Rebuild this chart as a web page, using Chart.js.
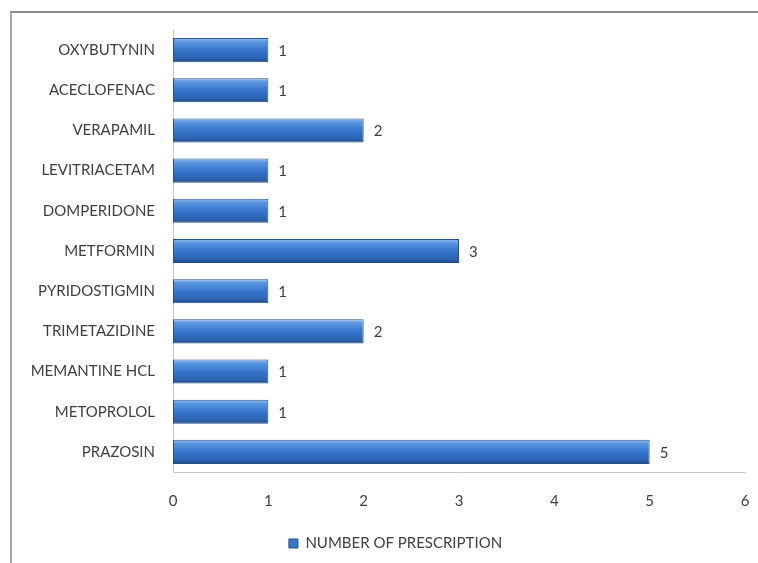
<!DOCTYPE html>
<html>
<head>
<meta charset="utf-8">
<script src="https://cdn.jsdelivr.net/npm/chart.js@4"></script>
<style>
  html, body { margin: 0; padding: 0; background: #fff; }
  #wrap { position: relative; width: 758px; height: 563px; overflow: hidden; }
  #frame { position: absolute; left: 10px; top: 11px; right: -5px; bottom: -5px;
           border-top: 2px solid #8c8c8c; border-left: 2px solid #a8a8a8; }
  #chart { position: absolute; left: 0; top: 0; }
</style>
</head>
<body>
<div id="wrap">
  <div id="frame"></div>
  <canvas id="chart" width="758" height="563"></canvas>
</div>
<script>
var drugs = ['OXYBUTYNIN', 'ACECLOFENAC', 'VERAPAMIL', 'LEVITRIACETAM', 'DOMPERIDONE',
  'METFORMIN', 'PYRIDOSTIGMIN', 'TRIMETAZIDINE', 'MEMANTINE HCL', 'METOPROLOL', 'PRAZOSIN'];
var prescriptions = [1, 1, 2, 1, 1, 3, 1, 2, 1, 1, 5];
var xTicks = [0, 1, 2, 3, 4, 5, 6];

var labelFont = { family: 'Lato, "Open Sans", sans-serif', size: 15 };
var barPct = 0.6;

// cylinder-like shading for each bar, built from the y scale
function barFill(c) {
  var chart = c.chart;
  var ys = chart.scales.y;
  if (!ys || c.dataIndex === undefined) return '#3c78c8';
  var mid = ys.getPixelForValue(c.dataIndex);
  var half = (ys.height / drugs.length) * barPct / 2;
  var g = chart.ctx.createLinearGradient(0, mid - half, 0, mid + half);
  g.addColorStop(0, '#9cc3ef');
  g.addColorStop(0.15, '#5b97e0');
  g.addColorStop(0.5, '#3676cc');
  g.addColorStop(0.85, '#2b62b0');
  g.addColorStop(1, '#1d4680');
  return g;
}

var valueLabels = {
  id: 'valueLabels',
  afterLayout: function(chart) {
    // legend sits a little right of centre in the original
    chart.legend.left += 18;
    chart.legend.right += 18;
  },
  afterDatasetsDraw: function(chart) {
    var ctx = chart.ctx;
    var meta = chart.getDatasetMeta(0);
    ctx.save();
    ctx.fillStyle = '#404040';
    ctx.font = labelFont.size + 'px ' + labelFont.family;
    ctx.textBaseline = 'middle';
    ctx.textAlign = 'left';
    meta.data.forEach(function(el, i) {
      ctx.fillText(String(prescriptions[i]), el.x + 10, el.y + 1);
    });
    ctx.restore();
  }
};

new Chart(document.getElementById('chart'), {
  type: 'bar',
  data: {
    labels: drugs,
    datasets: [{
      label: 'NUMBER OF PRESCRIPTION',
      data: prescriptions,
      backgroundColor: barFill,
      borderColor: '#24508c',
      borderWidth: 1,
      borderSkipped: false,
      barPercentage: barPct,
      categoryPercentage: 1
    }]
  },
  options: {
    indexAxis: 'y',
    responsive: false,
    animation: false,
    layout: { padding: { top: 30, right: 13, left: 10, bottom: 2 } },
    scales: {
      x: {
        min: 0, max: 6,
        afterBuildTicks: function(s) { s.ticks = xTicks.map(function(v) { return { value: v }; }); },
        grid: { display: false, drawTicks: false },
        border: { display: true, color: '#c8c8c8', width: 1 },
        ticks: { color: '#404040', font: labelFont, padding: 20 },
        afterFit: function(s) { s.height = 54; s.paddingRight = 0; s.paddingLeft = 0; }
      },
      y: {
        grid: { display: false, drawTicks: false },
        border: { display: true, color: '#c8c8c8', width: 1 },
        ticks: { color: '#404040', font: labelFont, padding: 18 },
        afterFit: function(s) { s.width = 163; s.paddingTop = 0; s.paddingBottom = 0; }
      }
    },
    plugins: {
      legend: {
        position: 'bottom',
        labels: {
          color: '#404040',
          font: labelFont,
          boxWidth: 9,
          boxHeight: 9,
          padding: 10,
          generateLabels: function(chart) {
            return [{ text: 'NUMBER OF PRESCRIPTION', fillStyle: '#3676cc', strokeStyle: '#24508c',
                      lineWidth: 1, datasetIndex: 0, fontColor: '#404040' }];
          }
        }
      },
      tooltip: { enabled: false }
    }
  },
  plugins: [valueLabels]
});
</script>
</body>
</html>
